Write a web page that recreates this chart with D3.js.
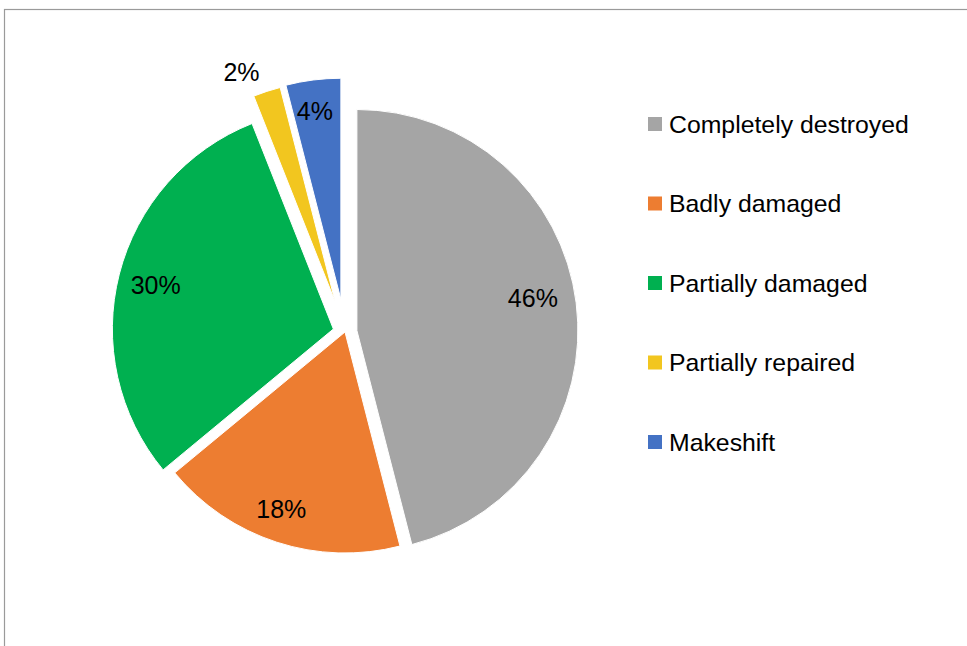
<!DOCTYPE html>
<html>
<head>
<meta charset="utf-8">
<script src="https://cdn.jsdelivr.net/npm/d3@7"></script>
<style>
  html, body { margin: 0; padding: 0; background: #fff; }
  svg { display: block; }
</style>
</head>
<body>
<svg id="chart" width="967" height="646"></svg>
<script>
// Housing condition shares
const categories = ["Completely destroyed", "Badly damaged", "Partially damaged", "Partially repaired", "Makeshift"];
const shares = [46, 18, 30, 2, 4];
const labels = ["46%", "18%", "30%", "2%", "4%"];
const colors = ["#A5A5A5", "#ED7D31", "#00B050", "#F2C61F", "#4472C4"];

const svg = d3.select("#chart");
const font = "'Liberation Sans', Arial, sans-serif";

// Chart frame
svg.append("rect")
  .attr("x", 4.5).attr("y", 9.5)
  .attr("width", 980).attr("height", 660)
  .attr("fill", "#fff")
  .attr("stroke", "#9a9a9a")
  .attr("stroke-width", 1.2);

const cx = 345, cy = 332, radius = 221;
// How far each slice is pulled out from the centre
const explode = [12, 0, 12, 32, 33];
// Fine placement of the percentage labels (best-fit style)
const labelShift = [[-6, -10], [-7, 3], [0, 2], [-17, 6], [-3, -6]];

const pie = d3.pie().sort(null).value(d => d)(shares);
const arc = d3.arc().innerRadius(0).outerRadius(radius);

const g = svg.append("g").attr("transform", `translate(${cx},${cy})`);

const mid = d => (d.startAngle + d.endAngle) / 2;

const slices = g.selectAll("g.slice")
  .data(pie)
  .join("g")
  .attr("class", "slice")
  .attr("transform", (d, i) => {
    const a = mid(d);
    return `translate(${explode[i] * Math.sin(a)},${-explode[i] * Math.cos(a)})`;
  });

slices.append("path")
  .attr("d", arc)
  .attr("fill", (d, i) => colors[i])
  .attr("stroke", "#fff")
  .attr("stroke-width", 1);

// Percentage labels: inside larger slices, just outside the thin ones
slices.append("text")
  .attr("transform", (d, i) => {
    const a = mid(d);
    const r = d.data < 3 ? radius + 27 : radius * 0.83;
    return `translate(${r * Math.sin(a) + labelShift[i][0]},${-r * Math.cos(a) + labelShift[i][1]})`;
  })
  .attr("text-anchor", "middle")
  .attr("dominant-baseline", "central")
  .attr("font-family", font)
  .attr("font-size", 25)
  .attr("fill", "#000")
  .text((d, i) => labels[i]);

// Legend
const legendY = d3.scalePoint().domain(categories).range([124, 442]);
const legend = svg.append("g").selectAll("g")
  .data(categories)
  .join("g")
  .attr("transform", d => `translate(648,${legendY(d)})`);

legend.append("rect")
  .attr("x", 0).attr("y", -7)
  .attr("width", 14).attr("height", 14)
  .attr("fill", (d, i) => colors[i]);

legend.append("text")
  .attr("x", 21).attr("y", 0)
  .attr("dominant-baseline", "central")
  .attr("font-family", font)
  .attr("font-size", 24.8)
  .attr("fill", "#000")
  .text(d => d);
</script>
</body>
</html>
